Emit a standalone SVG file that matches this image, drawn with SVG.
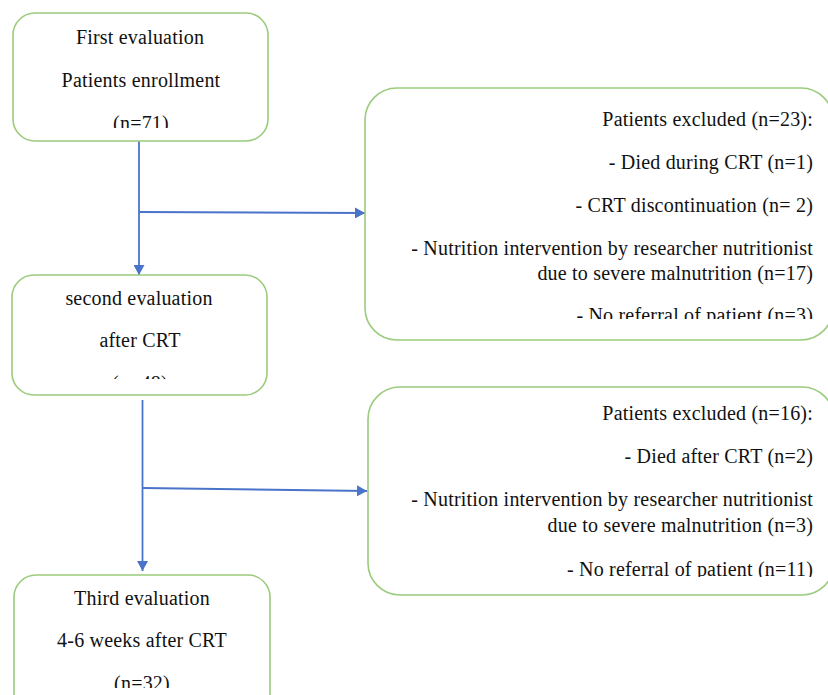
<svg xmlns="http://www.w3.org/2000/svg" width="828" height="695" viewBox="0 0 828 695">
<style>
.box{fill:#fff;stroke:#9bcb7c;stroke-width:1.6}
.t{font-family:"Liberation Serif","Times New Roman",serif;font-size:20px;letter-spacing:0.2px;fill:#111}
.c{text-anchor:middle}
.r{text-anchor:end}
.conn{stroke:#4a74c9;stroke-width:1.8;fill:none}
</style>
<defs>
<marker id="ah" markerUnits="userSpaceOnUse" markerWidth="11" markerHeight="11" refX="10" refY="5.5" orient="auto">
<path d="M0,0 L10,5.5 L0,11 Z" fill="#4a74c9"/>
</marker>
<clipPath id="c1"><rect x="13" y="13" width="255" height="115"/></clipPath>
<clipPath id="c2"><rect x="12" y="275" width="255" height="104"/></clipPath>
<clipPath id="c3"><rect x="14" y="575" width="256" height="113"/></clipPath>
<clipPath id="c4"><rect x="365" y="88" width="470" height="231"/></clipPath>
<clipPath id="c5"><rect x="368" y="387" width="470" height="190"/></clipPath>
</defs>
<rect width="828" height="695" fill="#fff"/>
<g id="connectors">
<line class="conn" x1="139" y1="141" x2="139" y2="275" marker-end="url(#ah)"/>
<line class="conn" x1="139" y1="212" x2="365" y2="213" marker-end="url(#ah)"/>
<line class="conn" x1="142.5" y1="400" x2="142.5" y2="571" marker-end="url(#ah)"/>
<line class="conn" x1="143" y1="488" x2="367" y2="491" marker-end="url(#ah)"/>
</g>
<g id="first">
<rect class="box" x="13" y="13" width="255" height="128" rx="22"/>
<g clip-path="url(#c1)">
<text class="t c" x="140" y="43.5">First evaluation</text>
<text class="t c" x="141" y="87">Patients enrollment</text>
<text class="t c" x="141" y="130">(n=71)</text>
</g>
</g>
<g id="second">
<rect class="box" x="12" y="275" width="255" height="120" rx="22"/>
<g clip-path="url(#c2)">
<text class="t c" x="139" y="305">second evaluation</text>
<text class="t c" x="140" y="347">after CRT</text>
<text class="t c" x="140" y="390">(n=48)</text>
</g>
</g>
<g id="third">
<rect class="box" x="14" y="575" width="256" height="140" rx="22"/>
<g clip-path="url(#c3)">
<text class="t c" x="142" y="605">Third evaluation</text>
<text class="t c" x="142" y="647">4-6 weeks after CRT</text>
<text class="t c" x="142" y="690">(n=32)</text>
</g>
</g>
<g id="excluded1">
<rect class="box" x="365" y="88" width="468" height="252" rx="32"/>
<g clip-path="url(#c4)">
<text class="t r" x="813" y="126">Patients excluded (n=23):</text>
<text class="t r" x="813" y="169">- Died during CRT (n=1)</text>
<text class="t r" x="813" y="212">- CRT discontinuation (n= 2)</text>
<text class="t r" x="813" y="255">- Nutrition intervention by researcher nutritionist</text>
<text class="t r" x="813" y="280">due to severe malnutrition (n=17)</text>
<text class="t r" x="813" y="322">- No referral of patient (n=3)</text>
</g>
</g>
<g id="excluded2">
<rect class="box" x="368" y="387" width="466" height="208" rx="32"/>
<g clip-path="url(#c5)">
<text class="t r" x="813" y="420">Patients excluded (n=16):</text>
<text class="t r" x="813" y="463">- Died after CRT (n=2)</text>
<text class="t r" x="813" y="506">- Nutrition intervention by researcher nutritionist</text>
<text class="t r" x="813" y="532">due to severe malnutrition (n=3)</text>
<text class="t r" x="813" y="576">- No referral of patient (n=11)</text>
</g>
</g>
</svg>
